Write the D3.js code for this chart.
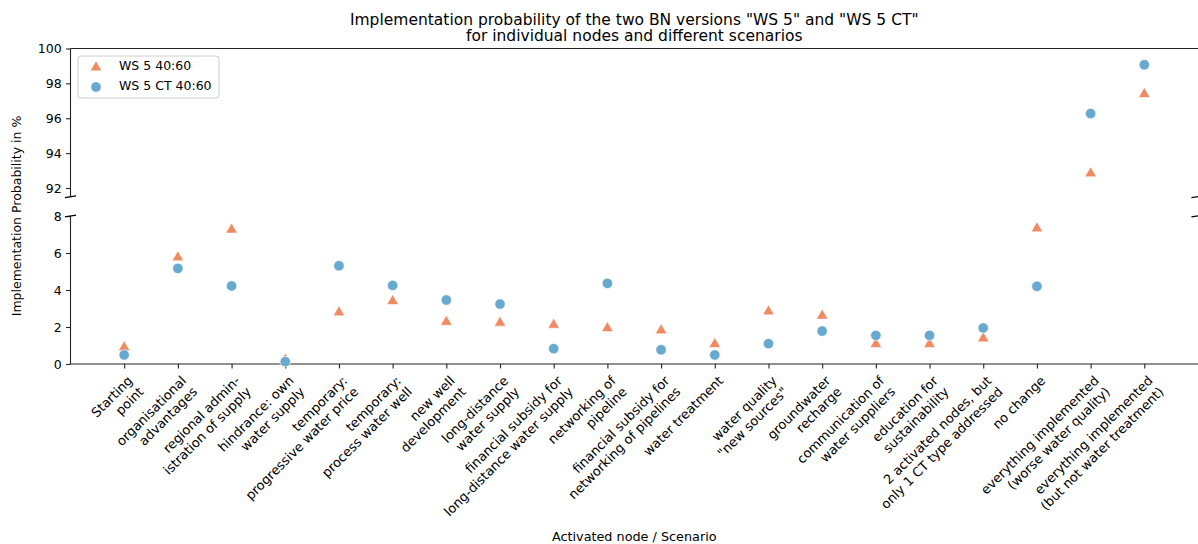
<!DOCTYPE html>
<html>
<head>
<meta charset="utf-8">
<script src="https://cdn.jsdelivr.net/npm/d3@7"></script>
<style>
  html, body { margin: 0; padding: 0; background: #fff; }
  svg { display: block; font-family: "DejaVu Sans", sans-serif; }
</style>
</head>
<body>
<svg id="chart" width="1198" height="544"></svg>
<script>
// Scenario names (line breaks kept as in the axis labels)
const categories = [
  "Starting\npoint",
  "organisational\nadvantages",
  "regional admin-\nistration of supply",
  "hindrance: own\nwater supply",
  "temporary:\nprogressive water price",
  "temporary:\nprocess water well",
  "new well\ndevelopment",
  "long-distance\nwater supply",
  "financial subsidy for\nlong-distance water supply",
  "networking of\npipeline",
  "financial subsidy for\nnetworking of pipelines",
  "water treatment",
  "water quality\n\"new sources\"",
  "groundwater\nrecharge",
  "communication of\nwater suppliers",
  "education for\nsustainability",
  "2 activated nodes, but\nonly 1 CT type addressed",
  "no change",
  "everything implemented\n(worse water quality)",
  "everything implemented\n(but not water treatment)"
];

// Implementation probability in %
const ws5 = [0.94, 5.8, 7.3, 0.27, 2.83, 3.44, 2.32, 2.27, 2.16, 1.98,
             1.86, 1.12, 2.88, 2.65, 1.12, 1.12, 1.42, 7.37, 92.88, 97.43];
const ws5ct = [0.49, 5.17, 4.22, 0.13, 5.31, 4.25, 3.46, 3.24, 0.83, 4.36,
               0.77, 0.49, 1.1, 1.78, 1.55, 1.55, 1.95, 4.2, 96.27, 99.07];

const seriesNames = ["WS 5 40:60", "WS 5 CT 40:60"];
const topTicks = [92, 94, 96, 98, 100];
const bottomTicks = [0, 2, 4, 6, 8];

const colors = { tri: "#ef8a62", dot: "#67a9cf" };
const FS = 12.5;       // tick numbers, legend, axis titles
const FS_CAT = 13;     // category labels
const FS_TITLE = 15.5;

const svg = d3.select("#chart");

const left = 70.5, right = 1198;
const x = d3.scaleLinear().domain([-1, 20]).range([left, right]);
const yTop = d3.scaleLinear().domain([91.5, 100]).range([196.75, 48.5]);
const yBot = d3.scaleLinear().domain([0, 8]).range([364, 216]);
const breakLow = 50;
const yOf = v => v > breakLow ? yTop(v) : yBot(v);

const axisColor = "#222";

// y axes (left spine only, ticks outward)
function yAxis(scale, ticks) {
  const g = svg.append("g")
    .attr("transform", `translate(${left},0)`)
    .call(d3.axisLeft(scale).tickValues(ticks).tickSize(4.4).tickPadding(4.4));
  g.select(".domain").attr("stroke", axisColor).attr("stroke-width", 1.1)
    .attr("d", `M0,${scale.range()[0]}V${scale.range()[1]}`);
  g.selectAll(".tick line").attr("stroke", axisColor).attr("stroke-width", 1.1);
  g.selectAll(".tick text").attr("font-size", FS).attr("fill", "#000")
    .attr("font-family", "DejaVu Sans");
  return g;
}
yAxis(yTop, topTicks);
yAxis(yBot, bottomTicks);

// top spine of upper panel
svg.append("line")
  .attr("x1", left).attr("x2", right)
  .attr("y1", yTop(100)).attr("y2", yTop(100))
  .attr("stroke", axisColor).attr("stroke-width", 1.1);

// bottom axis with category ticks
const gx = svg.append("g")
  .attr("transform", `translate(0,${yBot(0)})`)
  .call(d3.axisBottom(x).tickValues(d3.range(categories.length)).tickSize(4.4).tickFormat(""));
gx.select(".domain").attr("stroke", axisColor).attr("stroke-width", 1.1)
  .attr("d", `M${left},0H${right}`);
gx.selectAll(".tick line").attr("stroke", axisColor).attr("stroke-width", 1.1);

// rotated multi-line category labels, right-aligned, anchored at their top-right corner
const lh = FS_CAT * 1.2;
const labelY = yBot(0) + 8.8;
categories.forEach((c, i) => {
  const lines = c.split("\n");
  const t = svg.append("text")
    .attr("transform", `translate(${x(i) + 0.5},${labelY}) rotate(-45)`)
    .attr("text-anchor", "end")
    .attr("font-size", FS_CAT)
    .attr("fill", "#000");
  lines.forEach((ln, k) => {
    t.append("tspan").attr("x", 0).attr("y", FS_CAT * 0.95 + k * lh).text(ln);
  });
});

// break marks on both sides
const bw = 5.6, bh = 0.9;
[left, right - 1].forEach(bx => {
  [yTop(91.5), yBot(8)].forEach(by => {
    svg.append("line")
      .attr("x1", bx - bw).attr("y1", by + bh)
      .attr("x2", bx + bw).attr("y2", by - bh)
      .attr("stroke", "#000").attr("stroke-width", 1.1);
  });
});

// markers
const tri = d3.symbol().type(d3.symbolTriangle).size(58);
svg.append("g").selectAll("path").data(ws5).join("path")
  .attr("d", tri)
  .attr("transform", (d, i) => `translate(${x(i)},${yOf(d) + 0.8})`)
  .attr("fill", colors.tri).attr("stroke", "#fff").attr("stroke-width", 0.6);

svg.append("g").selectAll("circle").data(ws5ct).join("circle")
  .attr("cx", (d, i) => x(i)).attr("cy", d => yOf(d))
  .attr("r", 5.2)
  .attr("fill", colors.dot).attr("stroke", "#fff").attr("stroke-width", 0.6);

// legend
const lg = svg.append("g").attr("transform", "translate(78,56)");
lg.append("rect").attr("width", 141).attr("height", 42).attr("rx", 3)
  .attr("fill", "#fff").attr("fill-opacity", 0.8)
  .attr("stroke", "#ccc").attr("stroke-width", 1);
lg.append("path").attr("d", tri).attr("transform", "translate(18,11.5)")
  .attr("fill", colors.tri).attr("stroke", "#fff").attr("stroke-width", 0.6);
lg.append("circle").attr("cx", 18).attr("cy", 31).attr("r", 5.2)
  .attr("fill", colors.dot).attr("stroke", "#fff").attr("stroke-width", 0.6);
seriesNames.forEach((s, k) => {
  lg.append("text").attr("x", 41).attr("y", 14 + k * 20)
    .attr("font-size", FS).attr("fill", "#000").text(s);
});

// title
const title = [
  "Implementation probability of the two BN versions \"WS 5\" and \"WS 5 CT\"",
  "for individual nodes and different scenarios"
];
title.forEach((s, k) => {
  svg.append("text").attr("x", (left + right) / 2).attr("y", 24.5 + k * 16)
    .attr("text-anchor", "middle").attr("font-size", FS_TITLE).attr("fill", "#000").text(s);
});

// axis titles
svg.append("text").attr("x", (left + right) / 2).attr("y", 541)
  .attr("text-anchor", "middle").attr("font-size", 12.8).attr("fill", "#000")
  .text("Activated node / Scenario");
svg.append("text")
  .attr("transform", "translate(21,216) rotate(-90)")
  .attr("text-anchor", "middle").attr("font-size", FS).attr("fill", "#000")
  .text("Implementation Probability in %");
</script>
</body>
</html>
